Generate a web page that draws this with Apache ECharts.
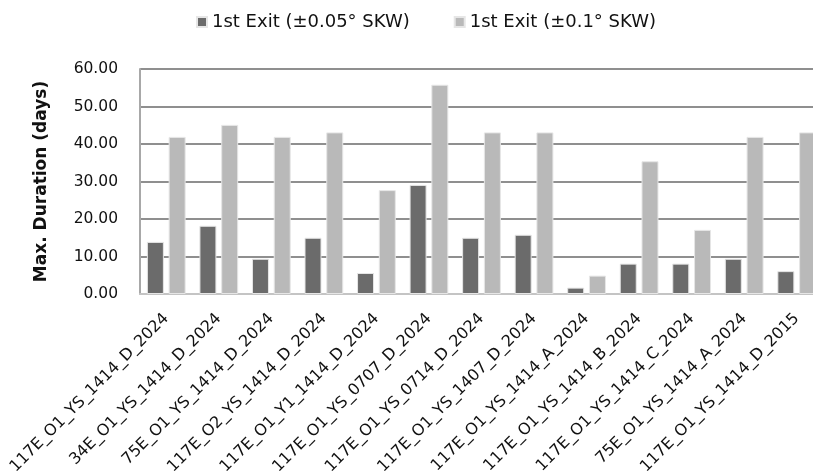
<!DOCTYPE html>
<html><head><meta charset="utf-8">
<script src="https://cdn.jsdelivr.net/npm/echarts@6/dist/echarts.min.js"></script>
<style>html,body{margin:0;padding:0;background:#fff}#c{width:813px;height:475px}</style>
</head><body><div id="c"></div>
<script>
const categories = ["117E_O1_YS_1414_D_2024","34E_O1_YS_1414_D_2024","75E_O1_YS_1414_D_2024","117E_O2_YS_1414_D_2024","117E_O1_Y1_1414_D_2024","117E_O1_YS_0707_D_2024","117E_O1_YS_0714_D_2024","117E_O1_YS_1407_D_2024","117E_O1_YS_1414_A_2024","117E_O1_YS_1414_B_2024","117E_O1_YS_1414_C_2024","75E_O1_YS_1414_A_2024","117E_O1_YS_1414_D_2015"];
const seriesNames = ["1st Exit (\u00b10.05\u00b0 SKW)", "1st Exit (\u00b10.1\u00b0 SKW)"];
const exit005 = [13.9, 18.2, 9.4, 15.0, 5.6, 29.1, 15.0, 15.8, 1.7, 8.1, 8.1, 9.4, 6.1];
const exit01 = [41.9, 45.1, 41.9, 43.1, 27.7, 55.8, 43.1, 43.1, 4.9, 35.4, 17.1, 41.9, 43.1];
const yTicks = {min: 0, max: 60, interval: 10};
const yTitle = "Max. Duration (days)";

const font = "'DejaVu Sans', sans-serif";
const chart = echarts.init(document.getElementById('c'), null, {renderer: 'canvas'});
chart.setOption({
  animation: false,
  backgroundColor: '#fff',
  textStyle: {fontFamily: font},
  legend: {
    top: 8, left: 191,
    itemWidth: 10, itemHeight: 10, itemGap: 44, icon: 'rect',
    textStyle: {fontSize: 18, color: '#111', fontFamily: font},
    data: seriesNames
  },
  grid: {left: 140, width: 683, top: 69, bottom: 181, containLabel: false, outerBoundsMode: 'none'},
  xAxis: {
    type: 'category', data: categories,
    axisLine: {show: true, lineStyle: {color: '#c4c4c4', width: 2}},
    axisTick: {show: false},
    axisLabel: {rotate: 45, interval: 0, fontSize: 16, color: '#111', margin: 22, fontFamily: font}
  },
  yAxis: {
    type: 'value', min: yTicks.min, max: yTicks.max, interval: yTicks.interval,
    name: yTitle, nameLocation: 'middle', nameGap: 90, nameRotate: 90,
    nameTextStyle: {fontSize: 17, fontWeight: 'bold', color: '#111', fontFamily: font},
    axisLine: {show: true, lineStyle: {color: '#a8a8a8', width: 2}},
    axisTick: {show: false},
    splitLine: {lineStyle: {color: '#8f8f8f', width: 2}},
    axisLabel: {formatter: v => v.toFixed(2), fontSize: 15.5, color: '#111', margin: 22, fontFamily: font}
  },
  series: [
    {name: seriesNames[0], type: 'bar', data: exit005, barWidth: 17, barGap: '28%',
     itemStyle: {color: '#6b6b6b', borderColor: '#e6e6e6', borderWidth: 1}},
    {name: seriesNames[1], type: 'bar', data: exit01, barWidth: 17,
     itemStyle: {color: '#b9b9b9', borderColor: '#e6e6e6', borderWidth: 1}}
  ]
});
</script></body></html>
